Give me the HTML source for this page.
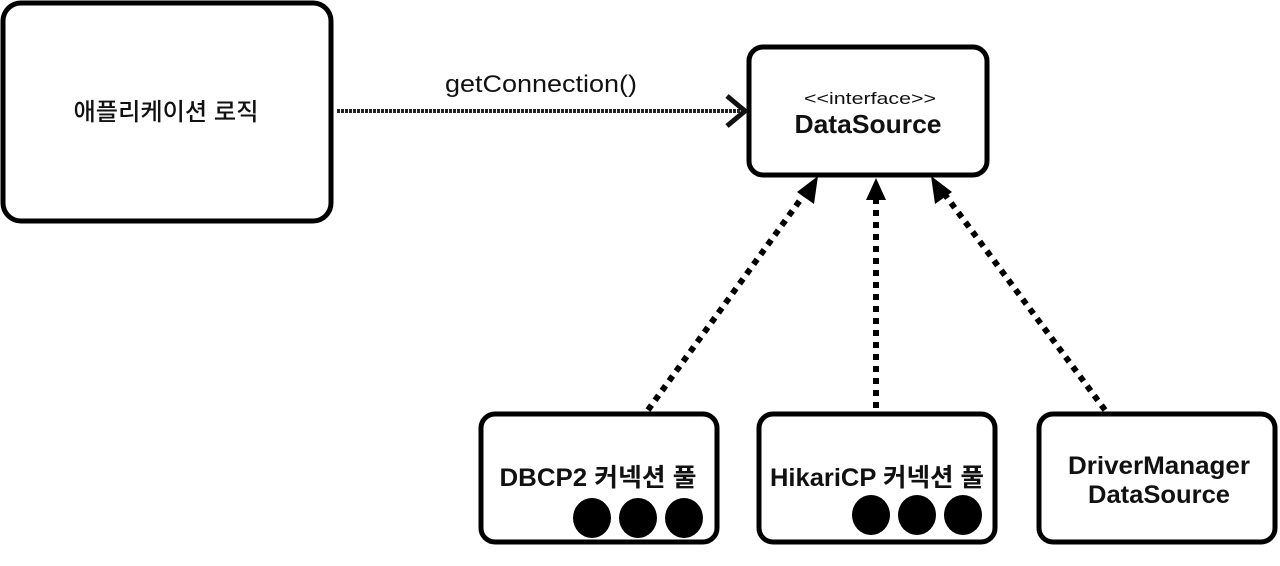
<!DOCTYPE html>
<html><head><meta charset="utf-8">
<style>
html,body{margin:0;padding:0;background:#fff;}
svg{display:block;}
text{font-family:"Liberation Sans","Noto Sans CJK KR",sans-serif;fill:#111;}
</style></head>
<body>
<svg width="1280" height="566" viewBox="0 0 1280 566" xmlns="http://www.w3.org/2000/svg">
<g fill="#fff" stroke="#000" stroke-width="5">
<rect x="3" y="3" width="328" height="218" rx="18"/>
<rect x="749" y="47" width="238" height="128" rx="14"/>
<rect x="481" y="414" width="236" height="128" rx="14"/>
<rect x="759" y="414" width="236" height="128" rx="14"/>
<rect x="1039" y="414" width="236" height="128" rx="14"/>
</g>
<text x="166" y="120" font-size="24" font-weight="500" text-anchor="middle" textLength="185" lengthAdjust="spacingAndGlyphs">애플리케이션 로직</text>
<text x="541" y="92" font-size="24" text-anchor="middle" textLength="192" lengthAdjust="spacingAndGlyphs">getConnection()</text>
<text x="870" y="104" font-size="17" text-anchor="middle" textLength="132" lengthAdjust="spacingAndGlyphs">&lt;&lt;interface&gt;&gt;</text>
<text x="868" y="133" font-size="26" font-weight="bold" text-anchor="middle" textLength="147" lengthAdjust="spacingAndGlyphs">DataSource</text>
<text x="598" y="486" font-size="25" font-weight="bold" text-anchor="middle" textLength="197" lengthAdjust="spacingAndGlyphs">DBCP2 커넥션 풀</text>
<text x="877" y="486" font-size="25" font-weight="bold" text-anchor="middle" textLength="214" lengthAdjust="spacingAndGlyphs">HikariCP 커넥션 풀</text>
<text x="1159" y="474" font-size="25" font-weight="bold" text-anchor="middle" textLength="182" lengthAdjust="spacingAndGlyphs">DriverManager</text>
<text x="1159" y="503" font-size="25" font-weight="bold" text-anchor="middle" textLength="142" lengthAdjust="spacingAndGlyphs">DataSource</text>
<g fill="#000">
<ellipse cx="592" cy="518" rx="19" ry="20"/>
<ellipse cx="638" cy="518" rx="19" ry="20"/>
<ellipse cx="684" cy="518" rx="19" ry="20"/>
<ellipse cx="871" cy="515" rx="19" ry="20"/>
<ellipse cx="917" cy="515" rx="19" ry="20"/>
<ellipse cx="963" cy="515" rx="19" ry="20"/>
</g>
<line x1="337" y1="111" x2="742" y2="111" stroke="#222" stroke-width="4" stroke-dasharray="3 1"/>
<polyline points="727,96 745,111 727,126" fill="none" stroke="#111" stroke-width="5"/>
<g stroke="#000" stroke-width="6" stroke-dasharray="6 6" fill="none">
<line x1="648" y1="410" x2="806" y2="192"/>
<line x1="876" y1="408" x2="876" y2="196"/>
<line x1="1105" y1="410" x2="943" y2="192"/>
</g>
<g fill="#000">
<polygon points="818,176 814,204 797,192"/>
<polygon points="876,178 886,200 866,200"/>
<polygon points="931,176 952,192 935,204"/>
</g>
</svg>
</body></html>
